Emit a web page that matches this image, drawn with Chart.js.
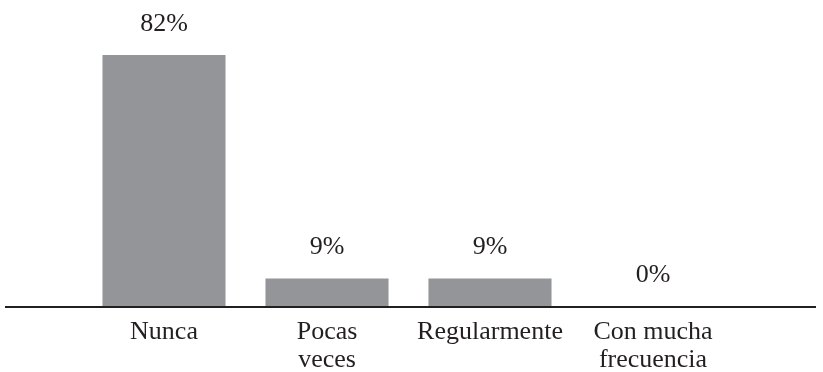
<!DOCTYPE html>
<html>
<head>
<meta charset="utf-8">
<script src="https://cdn.jsdelivr.net/npm/chart.js@4"></script>
<style>
  html, body { margin: 0; padding: 0; background: #fff; }
  #wrap { width: 823px; height: 372px; }
</style>
</head>
<body>
<div id="wrap"><canvas id="chart"></canvas></div>
<script>
const categories = ["Nunca", ["Pocas", "veces"], "Regularmente", ["Con mucha", "frecuencia"]];
const percentages = [82, 9, 9, 0];

const TEXT = "#231f20";
const FONT = "'Liberation Serif', 'Times New Roman', serif";

// value labels above each bar
const valueLabels = {
    id: "valueLabels",
    afterDatasetsDraw(chart) {
        const { ctx } = chart;
        const meta = chart.getDatasetMeta(0);
        ctx.save();
        ctx.fillStyle = TEXT;
        ctx.font = "26px " + FONT;
        ctx.textAlign = "center";
        ctx.textBaseline = "alphabetic";
        meta.data.forEach((bar, i) => {
            ctx.fillText(percentages[i] + "%", bar.x, bar.y - 24);
        });
        ctx.restore();
    },
};

// long baseline running past the bars
const baseline = {
    id: "baseline",
    afterDatasetsDraw(chart) {
        const { ctx } = chart;
        const y = Math.round(chart.scales.y.getPixelForValue(0)) + 1;
        ctx.save();
        ctx.strokeStyle = TEXT;
        ctx.lineWidth = 2;
        ctx.beginPath();
        ctx.moveTo(5, y);
        ctx.lineTo(816, y);
        ctx.stroke();
        ctx.restore();
    },
};

new Chart(document.querySelector("#chart"), {
    type: "bar",
    data: {
        labels: categories,
        datasets: [
            {
                data: percentages,
                backgroundColor: "#939598",
                borderWidth: 0,
                barPercentage: 0.755,
                categoryPercentage: 1,
            },
        ],
    },
    options: {
        responsive: true,
        maintainAspectRatio: false,
        animation: false,
        layout: { padding: { left: 82.5, right: 88.5, top: 0, bottom: 0 } },
        scales: {
            x: {
                grid: { display: false },
                border: { display: false },
                ticks: {
                    color: TEXT,
                    font: { family: FONT, size: 26, lineHeight: 1.05 },
                    padding: 5,
                    maxRotation: 0,
                    autoSkip: false,
                },
                afterFit(scale) {
                    scale.height = 66;
                },
            },
            y: {
                display: false,
                min: 0,
                max: 100,
            },
        },
        plugins: {
            legend: { display: false },
            tooltip: { enabled: false },
        },
    },
    plugins: [valueLabels, baseline],
});
</script>
</body>
</html>
